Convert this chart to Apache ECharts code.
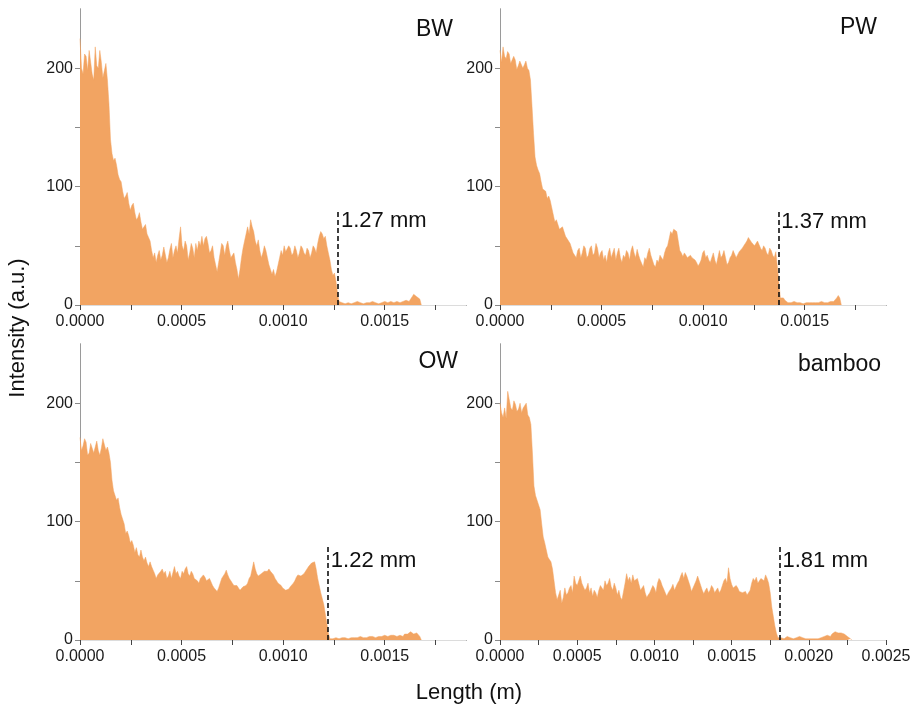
<!DOCTYPE html>
<html><head><meta charset="utf-8">
<script src="https://cdn.jsdelivr.net/npm/echarts@6/dist/echarts.min.js"></script>
<style>html,body{margin:0;padding:0;background:#fff}#c{width:915px;height:710px}</style>
</head><body><div id="c"></div>
<script>
// ---------- data ----------
const panelNames = ['BW', 'PW', 'OW', 'bamboo'];
const cutoffLabels = ['1.27 mm', '1.37 mm', '1.22 mm', '1.81 mm'];
const cutoffs = [0.00127, 0.00137, 0.00122, 0.00181];      // m
const cutoffLineTops = [81, 80, 80, 80];                     // a.u.
const cutoffLabelLevels = [71, 70, 67, 67];                  // a.u.
const sampleSteps = [0.0000075, 0.0000075, 0.0000075, 0.00001]; // m between samples

const bwValues = [
  225,200,195,212,210,198,215,205,195,190,218,202,200,215,205,192,198,204,190,170,
  140,128,122,124,118,110,106,104,96,90,92,95,86,80,84,86,78,72,74,78,
  70,64,66,68,60,57,54,46,40,44,36,42,46,38,42,49,48,36,40,47,
  52,40,46,50,44,56,66,50,46,54,50,38,44,52,48,40,52,46,54,50,
  58,50,56,58,52,44,46,50,40,34,28,36,44,52,50,42,50,54,46,40,
  40,44,36,30,22,30,40,48,54,60,66,60,72,66,62,54,50,55,46,40,
  44,50,46,40,34,30,26,30,24,28,34,40,46,42,50,45,44,50,48,42,
  44,50,46,40,44,50,48,44,42,48,46,40,44,50,48,44,52,58,62,60,
  56,58,50,44,38,30,25,27,20,10,3,2,2,1,1,2,2,1,1,2,
  2,2,3,2,2,2,1,2,2,3,2,2,3,2,2,1,1,2,2,3,
  3,2,2,3,3,3,2,2,3,4,2,3,3,4,4,3,3,5,7,9,
  8,7,6,5,0];
const pwValues = [
  215,205,218,210,208,214,212,204,203,210,207,199,202,206,205,200,203,206,200,198,
  190,168,145,125,118,114,111,104,98,99,96,90,92,88,82,76,70,72,68,64,
  64,66,62,58,58,54,52,48,44,42,40,46,48,40,44,50,48,40,42,48,
  50,42,44,52,48,40,44,46,38,42,36,44,48,40,44,48,38,44,48,40,
  36,42,40,46,44,38,46,50,44,40,47,42,38,35,32,40,38,44,48,42,
  38,34,32,38,36,42,40,38,44,48,50,56,62,60,64,65,62,54,46,44,
  41,44,42,40,41,42,40,41,38,36,33,35,38,44,46,40,42,38,36,40,
  44,38,34,40,46,40,42,46,40,34,36,40,42,46,46,40,41,45,46,48,
  50,52,54,57,56,53,54,50,52,54,55,48,46,50,48,44,42,48,46,42,
  40,45,44,20,6,7,6,4,3,2,2,2,2,3,3,2,2,2,2,1,
  1,2,2,2,2,2,3,2,2,2,2,3,2,2,3,2,2,3,2,3,
  4,6,8,6,0];
const owValues = [
  171,160,164,170,167,156,158,166,167,158,163,168,160,156,162,170,169,160,163,158,
  150,135,126,122,118,120,112,106,105,98,90,92,88,82,84,80,74,78,72,70,
  76,70,67,70,65,62,66,62,59,56,52,55,56,58,60,56,58,52,54,58,
  52,57,62,56,58,54,52,58,56,60,62,56,54,58,56,52,52,50,48,52,
  51,55,53,50,50,52,49,46,44,45,41,44,48,52,53,56,59,55,52,50,
  48,46,45,46,44,42,42,45,44,46,48,52,54,60,66,60,56,54,53,56,
  56,58,59,58,60,58,57,55,52,50,48,47,46,44,43,42,41,43,45,46,
  48,50,53,55,56,54,54,56,58,60,62,63,65,64,66,60,52,46,40,35,
  30,22,14,6,1,1,1,2,2,1,1,2,2,2,2,1,1,2,2,2,
  2,3,2,2,3,2,2,3,2,2,3,3,3,2,2,3,3,3,3,4,
  4,3,3,4,4,4,4,3,3,4,4,3,3,5,4,5,6,7,6,5,
  5,6,5,3,0];
const bambooValues = [
  200,192,188,196,187,210,203,196,194,202,199,193,195,200,192,196,197,200,190,188,
  182,158,130,122,118,114,110,98,87,82,76,70,68,66,60,50,40,34,38,42,
  31,36,44,38,40,44,46,40,54,48,46,50,54,48,47,42,44,48,40,44,
  37,42,40,36,42,46,45,42,50,46,48,52,45,42,48,44,38,42,36,34,
  33,48,56,50,53,48,55,50,49,52,47,42,44,46,40,36,38,40,43,46,
  44,40,48,52,50,46,43,40,37,40,41,44,47,42,45,48,50,54,57,52,
  57,54,50,46,41,44,45,50,54,50,46,42,39,42,44,40,42,46,44,40,
  42,44,40,42,46,50,52,48,61,52,47,44,43,46,44,41,42,40,39,41,
  38,40,42,48,52,50,53,48,50,52,53,50,55,52,48,40,28,20,12,6,
  2,1,2,2,1,2,3,2,2,1,1,2,2,3,3,2,2,1,1,1,
  1,1,1,0,1,1,1,1,2,2,3,4,4,3,3,5,6,7,8,6,
  5,6,7,5,4,3,2,1,0];
const panelValues = [bwValues, pwValues, owValues, bambooValues];

const xMaxes = [0.0019, 0.0019, 0.0019, 0.0025];
const xLabelTicksShort = [0, 0.0005, 0.0010, 0.0015];
const xLabelTicksLong = [0, 0.0005, 0.0010, 0.0015, 0.0020, 0.0025];
const xAllTicksShort = [0, 0.00025, 0.0005, 0.00075, 0.0010, 0.00125, 0.0015, 0.00175];
const xAllTicksLong = [0, 0.00025, 0.0005, 0.00075, 0.0010, 0.00125, 0.0015, 0.00175, 0.0020, 0.00225, 0.0025];
const yLabelTicks = [0, 100, 200];
const yAllTicks = [0, 50, 100, 150, 200];
const yMax = 250;

// ---------- layout ----------
const FONT = '"Liberation Sans", Arial, sans-serif';
const AREA = '#F2A462';
const gridLefts = [80, 500, 80, 500];
const gridTops = [9, 9, 344, 344];
const GW = 386, GH = 296;
const namePos = [[453, 30], [877, 28], [458, 362], [881, 365]];

const grids = [], xAxes = [], yAxes = [], series = [];
for (let i = 0; i < 4; i++) {
  grids.push({left: gridLefts[i], top: gridTops[i], width: GW, height: GH});
  const longX = i === 3;
  xAxes.push({
    type: 'value', gridIndex: i, min: 0, max: xMaxes[i],
    axisLine: {show: true, lineStyle: {color: '#222', width: 1.2}},
    axisTick: {show: true, length: 5, customValues: longX ? xAllTicksLong : xAllTicksShort,
      lineStyle: {color: '#444'}},
    axisLabel: {customValues: longX ? xLabelTicksLong : xLabelTicksShort, margin: 9,
      fontFamily: FONT, fontSize: 16, color: '#1a1a1a',
      formatter: v => v.toFixed(4)},
    splitLine: {show: false}
  });
  // top border
  xAxes.push({
    type: 'value', gridIndex: i, position: 'top', min: 0, max: xMaxes[i],
    axisLine: {show: true, lineStyle: {color: '#dcdcdc', width: 1}},
    axisTick: {show: false}, axisLabel: {show: false}, splitLine: {show: false}
  });
  yAxes.push({
    type: 'value', gridIndex: i, min: 0, max: yMax,
    axisLine: {show: true, lineStyle: {color: '#8a8a8a', width: 1}},
    axisTick: {show: true, length: 5, customValues: yAllTicks, lineStyle: {color: '#8a8a8a'}},
    axisLabel: {customValues: yLabelTicks, margin: 7, fontFamily: FONT, fontSize: 16, color: '#1a1a1a'},
    splitLine: {show: false}
  });
  // right border
  yAxes.push({
    type: 'value', gridIndex: i, position: 'right', min: 0, max: yMax,
    axisLine: {show: true, lineStyle: {color: '#9a9a9a', width: 1}},
    axisTick: {show: false}, axisLabel: {show: false}, splitLine: {show: false}
  });
  const step = sampleSteps[i];
  series.push({
    type: 'line', xAxisIndex: 2 * i, yAxisIndex: 2 * i,
    data: panelValues[i].map((v, k) => [k * step, v]),
    symbol: 'none', silent: true, animation: false,
    lineStyle: {width: 0.5, color: AREA},
    areaStyle: {color: AREA, opacity: 1},
    markLine: {
      silent: true, symbol: ['none', 'none'], animation: false,
      label: {show: false},
      lineStyle: {type: [5, 3], color: '#111', width: 1.6},
      data: [[{coord: [cutoffs[i], 0]}, {coord: [cutoffs[i], cutoffLineTops[i]]}]]
    },
    markPoint: {
      silent: true, animation: false,
      data: [{coord: [cutoffs[i], cutoffLabelLevels[i]], symbol: 'circle', symbolSize: 0,
        label: {show: true, position: 'right', distance: 3, formatter: cutoffLabels[i],
          fontFamily: FONT, fontSize: 22, color: '#111'}}]
    }
  });
}

const graphics = panelNames.map((n, i) => ({
  type: 'text', x: namePos[i][0], y: namePos[i][1], silent: true,
  style: {text: n, fontFamily: FONT, fontSize: 23, fill: '#111', textAlign: 'right', textVerticalAlign: 'middle'}
}));
graphics.push({
  type: 'text', x: 18, y: 328, rotation: Math.PI / 2, silent: true,
  style: {text: 'Intensity (a.u.)', fontFamily: FONT, fontSize: 22, fill: '#111', textAlign: 'center', textVerticalAlign: 'middle'}
});
graphics.push({
  type: 'text', x: 469, y: 693, silent: true,
  style: {text: 'Length (m)', fontFamily: FONT, fontSize: 22, fill: '#111', textAlign: 'center', textVerticalAlign: 'middle'}
});

const chart = echarts.init(document.getElementById('c'), null, {renderer: 'canvas'});
chart.setOption({
  animation: false,
  backgroundColor: '#fff',
  grid: grids, xAxis: xAxes, yAxis: yAxes, series: series, graphic: graphics
});
</script></body></html>
